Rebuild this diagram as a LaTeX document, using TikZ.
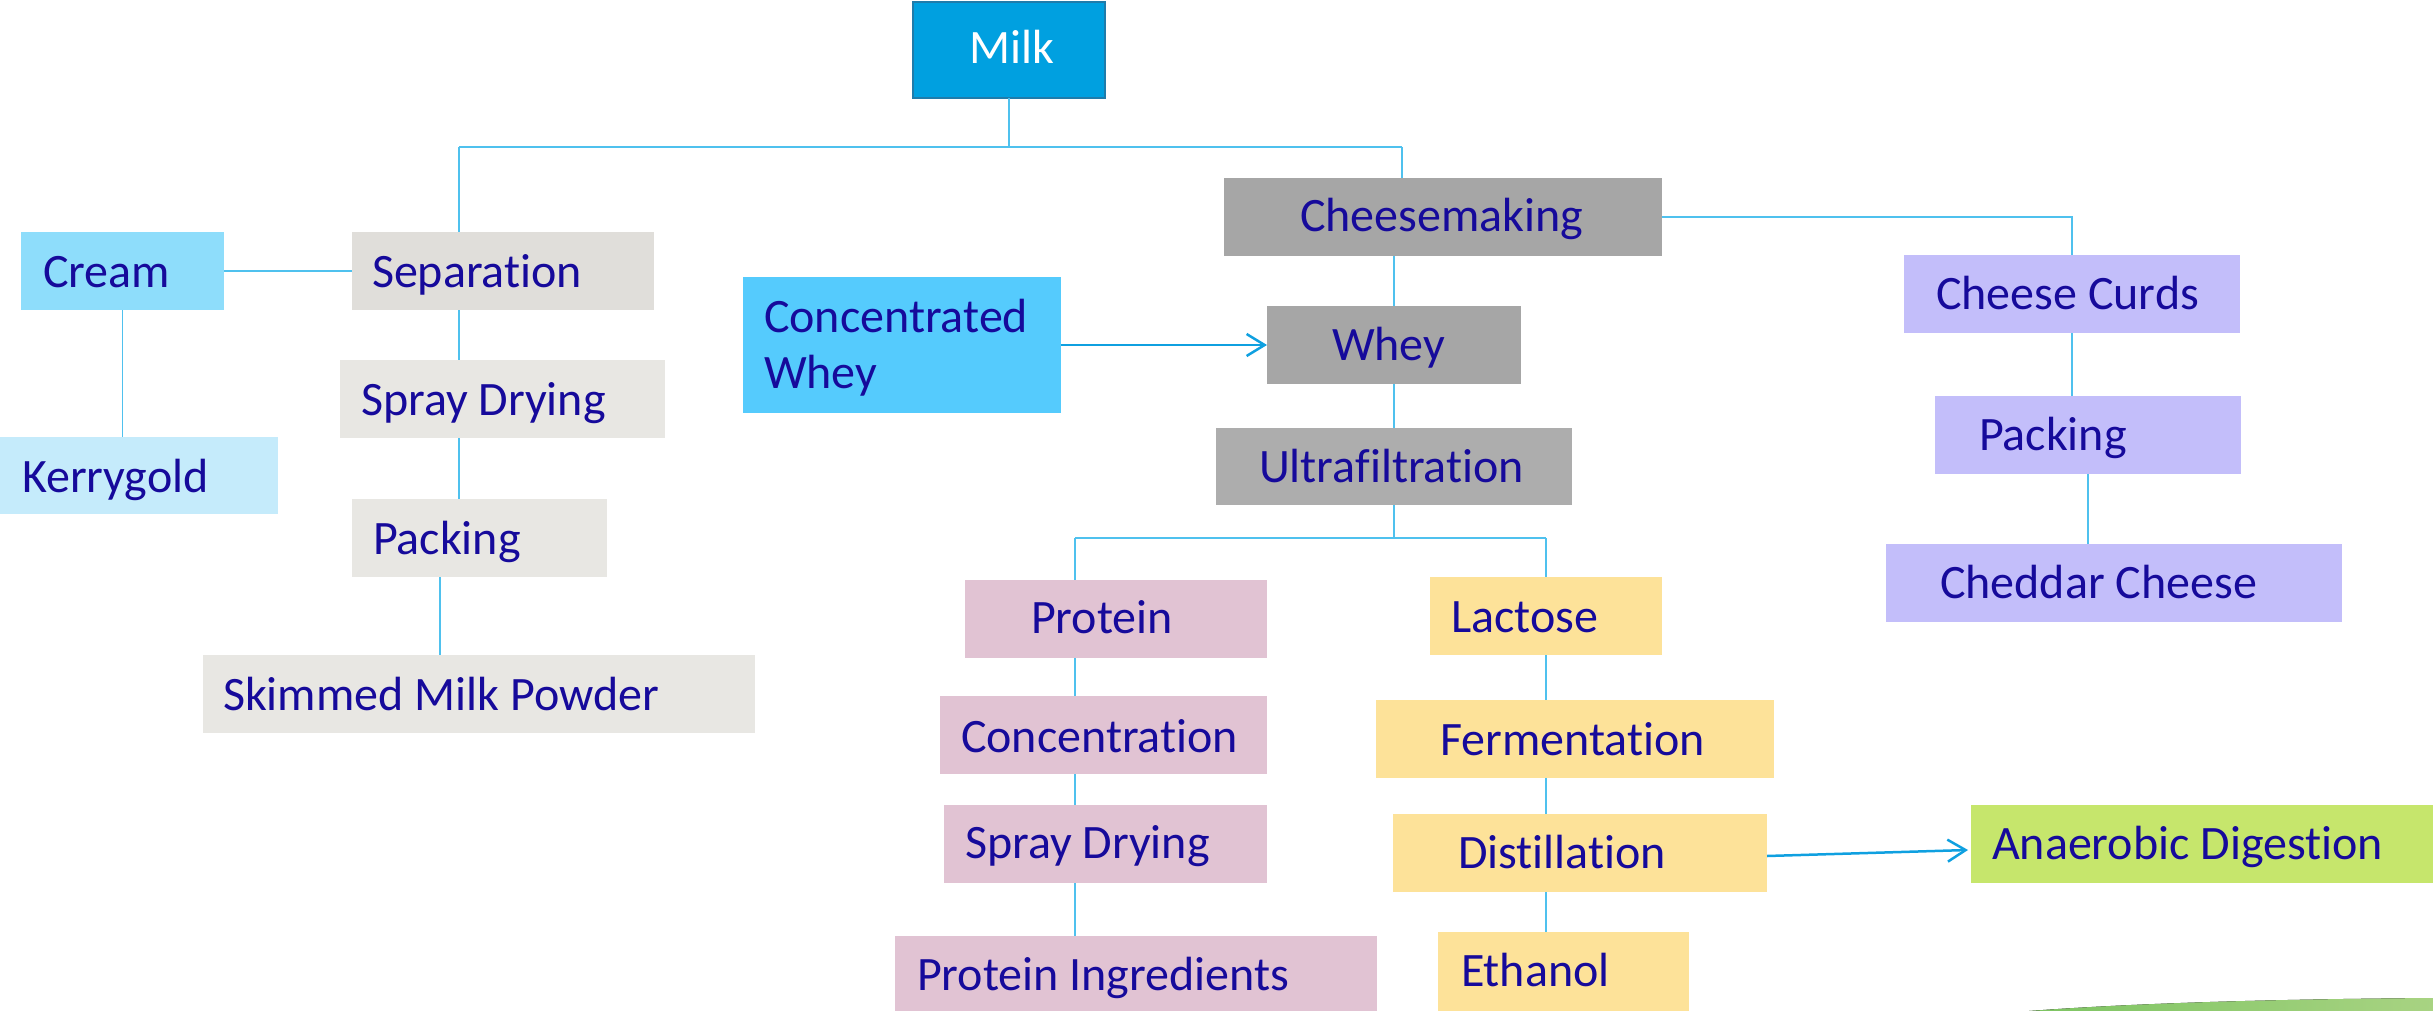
\documentclass[tikz,border=0pt]{standalone}
\usepackage{fontspec}
\setmainfont{Carlito}[Ligatures=NoCommon]
\usetikzlibrary{arrows.meta}
\definecolor{txtblue}{RGB}{22,10,155}
\definecolor{milkfill}{RGB}{0,160,224}
\definecolor{milkborder}{RGB}{31,124,171}
\definecolor{creamfill}{RGB}{142,221,251}
\definecolor{kerryfill}{RGB}{197,235,251}
\definecolor{sepfill}{RGB}{224,222,218}
\definecolor{lightgrey}{RGB}{232,231,227}
\definecolor{cwfill}{RGB}{85,203,253}
\definecolor{midgrey}{RGB}{166,166,166}
\definecolor{ultragrey}{RGB}{173,173,173}
\definecolor{lavender}{RGB}{195,190,250}
\definecolor{pinkfill}{RGB}{225,195,211}
\definecolor{yellowfill}{RGB}{253,226,153}
\definecolor{greenfill}{RGB}{198,230,108}
\definecolor{thinline}{RGB}{79,193,238}
\definecolor{thickline}{RGB}{15,160,224}
\definecolor{swooshA}{RGB}{125,196,98}
\definecolor{swooshB}{RGB}{168,211,130}
\tikzset{
  box/.style={draw=none, inner sep=0pt, outer sep=0pt, anchor=north west},
  lbl/.style={inner sep=0pt, outer sep=0pt, text=txtblue, font=\fontsize{48}{56}\selectfont},
  conn/.style={draw=thinline, line width=1.5pt},
  bus/.style={draw=thinline, line width=2.5pt},
  arrowconn/.style={draw=thickline, line width=2.5pt, -{Straight Barb[length=18pt,width=22pt,line width=2.5pt]}}
}
\newcommand\mybox[6]{\node[box, fill=#6, minimum width={(#4-#2)*1pt}, minimum height={(#5-#3)*1pt}] (#1) at (#2,#3) {};}
\newcommand\lbltxt[4]{\node[lbl, anchor=base west] (#1) at (#2,#3) {#4};}
\begin{document}
\begin{tikzpicture}[x=1pt, y=-1pt]
\useasboundingbox (0,0) rectangle (2433,1011);
% swoosh
\fill[left color=swooshA, right color=swooshB] (2029,1011) .. controls (2150,1002) and (2300,999) .. (2433,998) -- (2433,1011) -- cycle;
% boxes
\node[box, fill=milkfill, draw=milkborder, line width=2.5pt, minimum width=192pt, minimum height=96pt] (milk) at (913,2) {};
\mybox{cream}{21}{232}{224}{310}{creamfill}
\mybox{sep}{352}{232}{654}{310}{sepfill}
\mybox{kerry}{0}{437}{278}{514}{kerryfill}
\mybox{sprayA}{340}{360}{665}{438}{lightgrey}
\mybox{packA}{352}{499}{607}{577}{lightgrey}
\mybox{skim}{203}{655}{755}{733}{lightgrey}
\mybox{cw}{743}{277}{1061}{413}{cwfill}
\mybox{cheese}{1224}{178}{1662}{256}{midgrey}
\mybox{whey}{1267}{306}{1521}{384}{midgrey}
\mybox{ultra}{1216}{428}{1572}{505}{ultragrey}
\mybox{curds}{1904}{255}{2240}{333}{lavender}
\mybox{packB}{1935}{396}{2241}{474}{lavender}
\mybox{cheddar}{1886}{544}{2342}{622}{lavender}
\mybox{protein}{965}{580}{1267}{658}{pinkfill}
\mybox{conc}{940}{696}{1267}{774}{pinkfill}
\mybox{sprayB}{944}{805}{1267}{883}{pinkfill}
\mybox{protI}{895}{936}{1377}{1011}{pinkfill}
\mybox{lactose}{1430}{577}{1662}{655}{yellowfill}
\mybox{ferm}{1376}{700}{1774}{778}{yellowfill}
\mybox{dist}{1393}{814}{1767}{892}{yellowfill}
\mybox{ethanol}{1438}{932}{1689}{1011}{yellowfill}
\mybox{anaer}{1971}{805}{2433}{883}{greenfill}
% texts
\node[lbl, anchor=base west, text=white] (tmilk) at (969,64) {Milk};
\lbltxt{tcream}{43}{287}{Cream}
\lbltxt{tsep}{372}{287}{Separation}
\lbltxt{tkerry}{22}{492}{Kerrygold}
\lbltxt{tsprayA}{361}{415}{Spray Drying}
\lbltxt{tpackA}{373}{554}{Packing}
\lbltxt{tskim}{223}{710}{Skimmed Milk Powder}
\node[lbl, anchor=base west, align=left] (tcw) at (764,388) {Concentrated\\Whey};
\lbltxt{tcheese}{1300}{232}{Cheesemaking}
\lbltxt{twhey}{1332}{360}{Whey}
\lbltxt{tultra}{1259}{482}{Ultrafiltration}
\lbltxt{tcurds}{1936}{309}{Cheese Curds}
\lbltxt{tpackB}{1979}{450}{Packing}
\lbltxt{tcheddar}{1940}{598}{Cheddar Cheese}
\lbltxt{tprotein}{1031}{633}{Protein}
\lbltxt{tlactose}{1451}{632}{Lactose}
\lbltxt{tconc}{961}{752}{Concentration}
\lbltxt{tferm}{1440}{755}{Fermentation}
\lbltxt{tsprayB}{965}{858}{Spray Drying}
\lbltxt{tdist}{1458}{868}{Distillation}
\lbltxt{tanaer}{1992}{859}{Anaerobic Digestion}
\lbltxt{tprotI}{917}{990}{Protein Ingredients}
\lbltxt{tethanol}{1461}{986}{Ethanol}
% junction coordinates
\coordinate (busL) at (459,147);
\coordinate (busR) at (1402,147);
\coordinate (xpk) at (440,0);
\coordinate (busP) at (1075,538);
\coordinate (busQ) at (1546,538);
% connectors
\draw[conn] (milk.south) -- (milk.south |- busL);
\draw[bus] (busL) -- (busR);
\draw[conn] (busL) -- (sep.north -| busL);
\draw[conn] (busR) -- (cheese.north -| busR);
\draw[bus] (cream.east) -- (sep.west);
\draw[conn] (cream.south) -- (cream.south |- kerry.north);
\draw[conn] (sep.south -| busL) -- (sprayA.north -| busL);
\draw[conn] (sprayA.south -| busL) -- (packA.north -| busL);
\draw[conn] (packA.south -| xpk) -- (skim.north -| xpk);
\draw[arrowconn] (cw.east) -- (whey.west);
\draw[conn] (cheese.south -| whey.north) -- (whey.north);
\draw[conn] (whey.south) -- (ultra.north);
\draw[conn] (ultra.south) -- (ultra.south |- busP);
\draw[bus] (busP) -- (busQ);
\draw[conn] (busP) -- (protein.north -| busP);
\draw[conn] (busQ) -- (lactose.north);
\draw[conn] (protein.south -| busP) -- (conc.north -| busP);
\draw[conn] (conc.south -| busP) -- (sprayB.north -| busP);
\draw[conn] (sprayB.south -| busP) -- (protI.north -| busP);
\draw[conn] (lactose.south) -- (ferm.north -| lactose.south);
\draw[conn] (ferm.south -| lactose.south) -- (dist.north -| lactose.south);
\draw[conn] (dist.south -| lactose.south) -- (ethanol.north -| lactose.south);
\draw[arrowconn] ([yshift=-3pt]dist.east) -- ([yshift=-6pt, xshift=-3pt]anaer.west);
\draw[bus] (cheese.east) -| (curds.north);
\draw[conn] (curds.south) -- (curds.south |- packB.north);
\draw[conn] (packB.south) -- (packB.south |- cheddar.north);
\end{tikzpicture}
\end{document}
